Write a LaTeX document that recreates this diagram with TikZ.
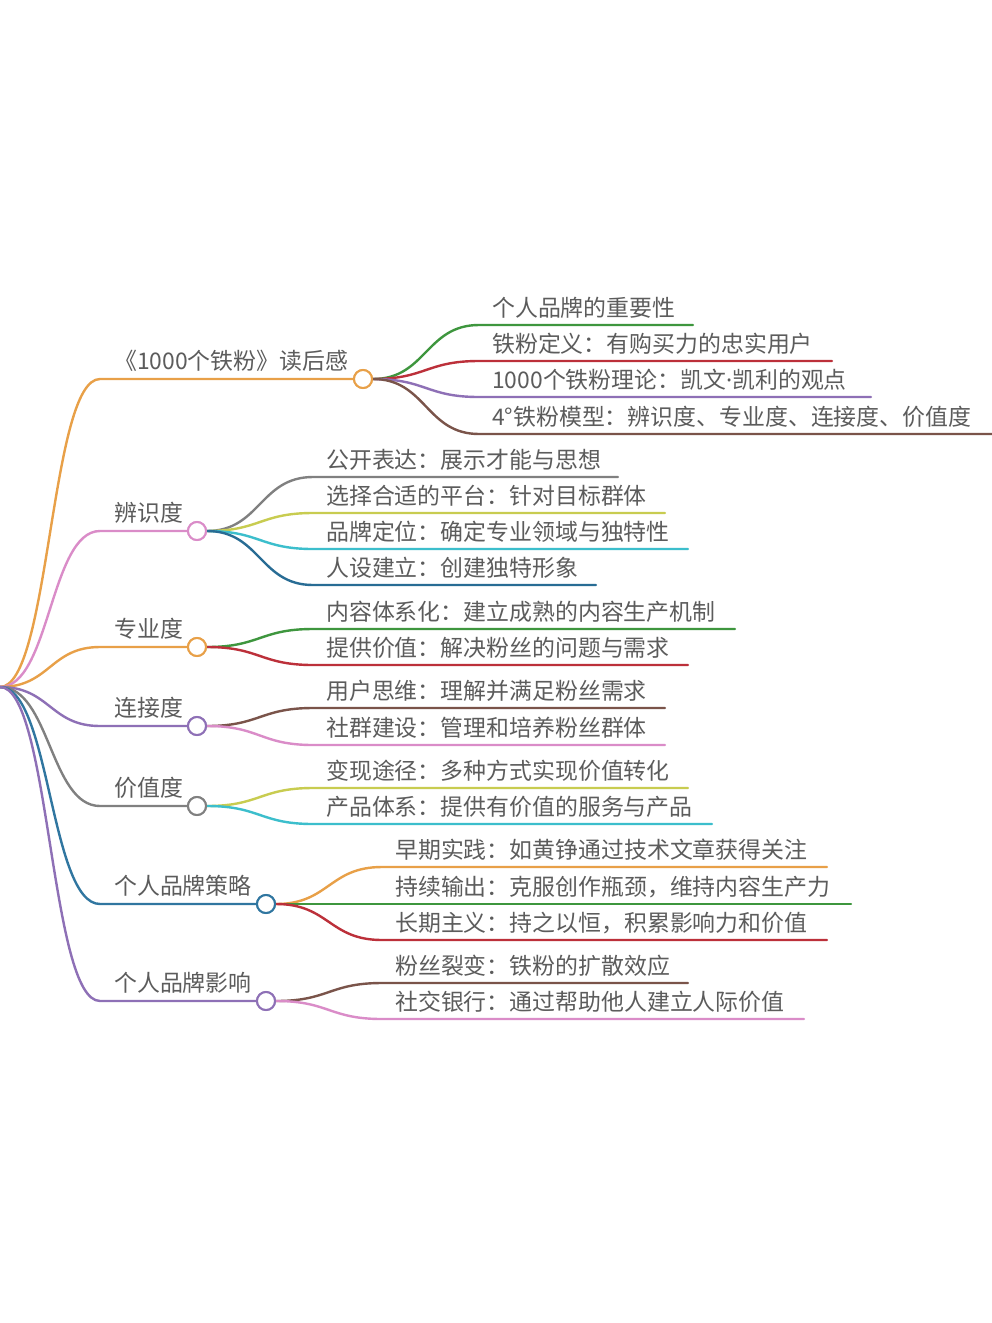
\documentclass[tikz,border=0pt]{standalone}
\usepackage{fontspec}
\setmainfont{Noto Sans CJK SC}
\newfontfamily\latinfont{Noto Sans}
\usetikzlibrary{calc}
\definecolor{cOrange}{RGB}{232,160,72}
\definecolor{cGreen}{RGB}{62,150,62}
\definecolor{cRed}{RGB}{188,48,58}
\definecolor{cPurple}{RGB}{142,112,182}
\definecolor{cBrown}{RGB}{122,84,74}
\definecolor{cPink}{RGB}{218,140,200}
\definecolor{cGray}{RGB}{128,128,128}
\definecolor{cOlive}{RGB}{200,204,80}
\definecolor{cCyan}{RGB}{60,190,204}
\definecolor{cBlue}{RGB}{48,118,160}
\definecolor{cDeep}{RGB}{40,108,148}
\definecolor{cText}{RGB}{92,92,92}
\tikzset{
  link/.style={line width=2.4pt, line cap=round},
  dot/.style={circle, draw=#1, line width=2pt, fill=white, minimum size=18pt, inner sep=0pt},
  lbl/.style={text=cText, font=\fontsize{22.9pt}{25pt}\selectfont, inner sep=0pt, anchor=base west},
}
% #1 parent circle, #2 colour, #3 start x, #4 y, #5 end x, #6 text, #7 name
\newcommand{\mkkid}[7]{%
  \coordinate (#7s) at (#3,#4);
  \coordinate (#7e) at (#5,#4);
  \draw[link,#2] let \p1=(#1.east), \p2=(#7s) in
    (\p1) .. controls ({0.5*\x1+0.5*\x2},\y1) and ({0.5*\x1+0.5*\x2},\y2) .. (\p2) -- (#7e);
  \node[lbl] (#7t) at ({#3+13},{#4-9}) {#6};
}
% #1 circle name, #2 colour, #3 circle x, #4 y, #5 text
\newcommand{\mktop}[5]{%
  \coordinate (#1s) at (100,#4);
  \draw[link,#2] (root) .. controls (50,687) and (50,#4) .. (#1s) -- ({#3-9},#4);
  \node[lbl] (#1t) at (114,{#4-10}) {#5};
}
\begin{document}
\begin{tikzpicture}[x=1pt,y=-1pt]
\useasboundingbox[fill=white] (0,0) rectangle (992,1323);
\coordinate (root) at (0,687);
% level 1
\mktop{a}{cOrange}{363}{379}{《1000个铁粉》读后感}
\mktop{b}{cPink}{197}{531}{辨识度}
\mktop{c}{cOrange}{197}{647}{专业度}
\mktop{d}{cPurple}{197}{726}{连接度}
\mktop{e}{cGray}{197}{806}{价值度}
\mktop{f}{cBlue}{266}{904}{个人品牌策略}
\mktop{g}{cPurple}{266}{1001}{个人品牌影响}
\node[dot=cOrange] (a) at (363,379) {};
\node[dot=cPink] (b) at (197,531) {};
\node[dot=cOrange] (c) at (197,647) {};
\node[dot=cPurple] (d) at (197,726) {};
\node[dot=cGray] (e) at (197,806) {};
\node[dot=cBlue] (f) at (266,904) {};
\node[dot=cPurple] (g) at (266,1001) {};
% level 2
\mkkid{a}{cGreen}{479}{325}{693}{个人品牌的重要性}{a1}
\mkkid{a}{cRed}{479}{361}{832}{铁粉定义：有购买力的忠实用户}{a2}
\mkkid{a}{cPurple}{479}{397}{871}{1000个铁粉理论：凯文{\latinfont ·}凯利的观点}{a3}
\mkkid{a}{cBrown}{479}{434}{992}{4°铁粉模型：辨识度、专业度、连接度、价值度}{a4}
\mkkid{b}{cGray}{313}{477}{618}{公开表达：展示才能与思想}{b1}
\mkkid{b}{cOlive}{313}{513}{665}{选择合适的平台：针对目标群体}{b2}
\mkkid{b}{cCyan}{313}{549}{688}{品牌定位：确定专业领域与独特性}{b3}
\mkkid{b}{cDeep}{313}{585}{596}{人设建立：创建独特形象}{b4}
\mkkid{c}{cGreen}{313}{629}{735}{内容体系化：建立成熟的内容生产机制}{c1}
\mkkid{c}{cRed}{313}{665}{688}{提供价值：解决粉丝的问题与需求}{c2}
\mkkid{d}{cBrown}{313}{708}{665}{用户思维：理解并满足粉丝需求}{d1}
\mkkid{d}{cPink}{313}{745}{665}{社群建设：管理和培养粉丝群体}{d2}
\mkkid{e}{cOlive}{313}{788}{688}{变现途径：多种方式实现价值转化}{e1}
\mkkid{e}{cCyan}{313}{824}{712}{产品体系：提供有价值的服务与产品}{e2}
\mkkid{f}{cOrange}{382}{867}{827}{早期实践：如黄铮通过技术文章获得关注}{f1}
\mkkid{f}{cGreen}{382}{904}{851}{持续输出：克服创作瓶颈，维持内容生产力}{f2}
\mkkid{f}{cRed}{382}{940}{827}{长期主义：持之以恒，积累影响力和价值}{f3}
\mkkid{g}{cBrown}{382}{983}{688}{粉丝裂变：铁粉的扩散效应}{g1}
\mkkid{g}{cPink}{382}{1019}{804}{社交银行：通过帮助他人建立人际价值}{g2}
% redraw circles on top
\foreach \n/\c in {a/cOrange,b/cPink,c/cOrange,d/cPurple,e/cGray,f/cBlue,g/cPurple}
  \draw[\c, line width=2pt, fill=white] (\n) circle (9pt);
\end{tikzpicture}
\end{document}
